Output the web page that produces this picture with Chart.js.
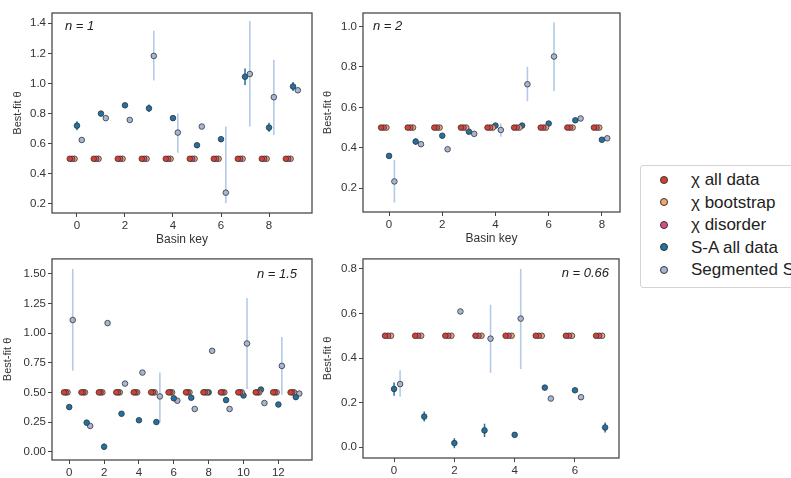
<!DOCTYPE html>
<html><head><meta charset="utf-8">
<script src="https://cdn.jsdelivr.net/npm/chart.js@4"></script>
<style>
body{margin:0;width:791px;height:478px;overflow:hidden;background:#fff;position:relative;font-family:"Liberation Sans",Arial,sans-serif}
canvas{position:absolute}
#legend{position:absolute;left:640px;top:165px;width:200px;height:123px;border:1px solid #d4d4d4;border-radius:3px;box-sizing:border-box;background:#fff}
.row{position:absolute;left:0;height:20px;width:200px}
.dot{position:absolute;left:19px;top:5.5px;width:8px;height:8px;border-radius:50%;border:0.8px solid #333;box-sizing:border-box}
.lab{position:absolute;left:50px;top:0;font-size:17px;line-height:20px;color:#222;white-space:nowrap}
</style>
</head><body>
<canvas id="c1" width="320" height="250" style="left:0;top:0"></canvas>
<canvas id="c2" width="310" height="250" style="left:320px;top:0"></canvas>
<canvas id="c3" width="320" height="240" style="left:0;top:250px"></canvas>
<canvas id="c4" width="310" height="240" style="left:320px;top:250px"></canvas>
<div id="legend"></div>
<script>
// ---------- data ----------
const seriesNames = ['χ all data', 'χ bootstrap', 'χ disorder', 'S-A all data', 'Segmented S-A'];

// n = 1
const keys1 = [0,1,2,3,4,5,6,7,8,9];
const chiAll1 = [0.5,0.5,0.5,0.5,0.5,0.5,0.5,0.5,0.5,0.5];
const chiBoot1 = [0.5,0.5,0.5,0.5,0.5,0.5,0.5,0.5,0.5,0.5];
const chiDis1 = [0.5,0.5,0.5,0.5,0.5,0.5,0.5,0.5,0.5,0.5];
const sa1 = [0.72,0.80,0.855,0.835,0.77,0.59,0.63,1.045,0.707,0.98];
const saErr1 = [[0.69,0.75],null,null,[0.81,0.86],null,null,null,[0.99,1.10],[0.68,0.74],[0.95,1.01]];
const seg1 = [0.625,0.77,0.758,1.183,0.674,0.714,0.275,1.063,0.909,0.955];
const segErr1 = [null,null,null,[1.02,1.35],[0.54,0.80],null,[0.205,0.714],[0.714,1.415],[0.658,1.157],null];
const xTicks1 = [0,2,4,6,8];
const yTicks1 = [0.2,0.4,0.6,0.8,1.0,1.2,1.4];

// n = 2
const keys2 = [0,1,2,3,4,5,6,7,8];
const chiAll2 = [0.5,0.5,0.5,0.5,0.5,0.5,0.5,0.5,0.5];
const chiBoot2 = [0.5,0.5,0.5,0.5,0.5,0.5,0.5,0.5,0.5];
const chiDis2 = [0.5,0.5,0.5,0.5,0.5,0.5,0.5,0.5,0.5];
const sa2 = [0.36,0.431,0.46,0.48,0.51,0.51,0.52,0.536,0.44];
const saErr2 = [null,[0.415,0.447],null,null,null,null,null,null,null];
const seg2 = [0.234,0.418,0.393,0.469,0.488,0.714,0.851,0.545,0.447];
const segErr2 = [[0.13,0.34],null,null,null,[0.455,0.52],[0.63,0.80],[0.68,1.02],null,null];
const xTicks2 = [0,2,4,6,8];
const yTicks2 = [0.2,0.4,0.6,0.8,1.0];

// n = 1.5
const keys3 = [0,1,2,3,4,5,6,7,8,9,10,11,12,13];
const chiAll3 = [0.5,0.5,0.5,0.5,0.5,0.5,0.5,0.5,0.5,0.5,0.5,0.5,0.5,0.5];
const chiBoot3 = [0.5,0.5,0.5,0.5,0.5,0.5,0.5,0.5,0.5,0.5,0.5,0.5,0.5,0.5];
const chiDis3 = [0.5,0.5,0.5,0.5,0.5,0.5,0.5,0.5,0.5,0.5,0.5,0.5,0.5,0.5];
const sa3 = [0.376,0.245,0.042,0.32,0.265,0.25,0.45,0.455,0.50,0.435,0.474,0.524,0.398,0.46];
const saErr3 = [null,null,[0.015,0.07],null,null,null,null,null,null,null,null,null,null,null];
const seg3 = [1.11,0.217,1.084,0.574,0.667,0.466,0.43,0.36,0.85,0.36,0.912,0.41,0.723,0.49];
const segErr3 = [[0.683,1.54],null,null,null,null,[0.245,0.667],null,null,null,null,[0.529,1.296],null,[0.48,0.966],null];
const xTicks3 = [0,2,4,6,8,10,12];
const yTicks3 = [0,0.25,0.5,0.75,1.0,1.25,1.5];

// n = 0.66
const keys4 = [0,1,2,3,4,5,6,7];
const chiAll4 = [0.5,0.5,0.5,0.5,0.5,0.5,0.5,0.5];
const chiBoot4 = [0.5,0.5,0.5,0.5,0.5,0.5,0.5,0.5];
const chiDis4 = [0.5,0.5,0.5,0.5,0.5,0.5,0.5,0.5];
const sa4 = [0.261,0.137,0.018,0.075,0.055,0.267,0.255,0.088];
const saErr4 = [[0.23,0.29],[0.115,0.16],[-0.005,0.04],[0.045,0.105],[0.045,0.065],null,null,[0.065,0.11]];
const seg4 = [0.283,null,0.609,0.487,0.577,0.218,0.224,null];
const segErr4 = [[0.226,0.345],null,null,[0.334,0.639],[0.35,0.8],null,null,null];
const xTicks4 = [0,2,4,6];
const yTicks4 = [0,0.2,0.4,0.6,0.8];

// ---------- styles ----------
const COL = {all:'#d63f2c', boot:'#f2a86d', dis:'#d64f88', sa:'#1f72a3', seg:'#a7b6d8'};
const FONT = '"Liberation Sans", Arial, sans-serif';

function pts(keys, vals, off, errs){
  const out = [];
  keys.forEach((k,i)=>{
    if (vals[i] == null) return;
    const p = {x:k+off, y:vals[i]};
    if (errs && errs[i]) { p.lo = errs[i][0]; p.hi = errs[i][1]; }
    out.push(p);
  });
  return out;
}

const errorBars = {
  id:'errorBars',
  beforeDatasetsDraw(chart){
    const {ctx, scales:{x,y}} = chart;
    chart.data.datasets.forEach(ds=>{
      if (!ds.errColor) return;
      ctx.save();
      ctx.strokeStyle = ds.errColor; ctx.lineWidth = ds.errWidth;
      ds.data.forEach(p=>{
        if (p.lo == null) return;
        const px = x.getPixelForValue(p.x);
        ctx.beginPath();
        ctx.moveTo(px, y.getPixelForValue(p.lo));
        ctx.lineTo(px, y.getPixelForValue(p.hi));
        ctx.stroke();
      });
      ctx.restore();
    });
  }
};

const frame = {
  id:'frame',
  afterDraw(chart, args, opts){
    const {ctx, chartArea:a} = chart;
    ctx.save();
    ctx.strokeStyle = '#4a4a4a'; ctx.lineWidth = 1.3;
    ctx.strokeRect(a.left, a.top, a.right-a.left, a.bottom-a.top);
    ctx.font = 'italic 13px ' + FONT; ctx.fillStyle = '#222';
    ctx.textBaseline = 'alphabetic';
    if (opts.align === 'left') { ctx.textAlign='left'; ctx.fillText(opts.text, a.left+opts.dx, a.top+opts.dy); }
    else { ctx.textAlign='right'; ctx.fillText(opts.text, a.right-opts.dx, a.top+opts.dy); }
    ctx.restore();
  }
};

function makeChart(id, d){
  const ds = (label, data, color, extra) => Object.assign({
    label, data, backgroundColor:color, borderColor:'#333', borderWidth:0.8,
    pointRadius:2.8, pointHoverRadius:2.8, showLine:false
  }, extra||{});
  new Chart(document.getElementById(id), {
    type:'scatter',
    data:{datasets:[
      ds(seriesNames[0], pts(d.keys, d.chiAll, -0.3), COL.all),
      ds(seriesNames[2], pts(d.keys, d.chiDis, -0.2), COL.dis),
      ds(seriesNames[1], pts(d.keys, d.chiBoot, -0.1), COL.boot),
      ds(seriesNames[3], pts(d.keys, d.sa, 0, d.saErr), COL.sa, {errColor:COL.sa, errWidth:1.5}),
      ds(seriesNames[4], pts(d.keys, d.seg, 0.2, d.segErr), COL.seg, {errColor:'#b3cbe5', errWidth:1.6})
    ]},
    options:{
      responsive:false, animation:false, events:[],
      layout:{padding:{top:d.padTop, right:d.padRight, left:0, bottom:0}},
      plugins:{legend:{display:false}, tooltip:{enabled:false},
        frame:{text:d.label, align:d.labelAlign, dx:d.labelDx, dy:d.labelDy}},
      scales:{
        x:{type:'linear', min:d.xr[0], max:d.xr[1],
          afterBuildTicks:s=>{ s.ticks = d.xTicks.map(v=>({value:v})); },
          afterFit:s=>{ s.height = d.xh; },
          ticks:{font:{family:FONT, size:11.5}, color:'#333', padding:2, autoSkip:false, maxRotation:0, callback:v=>v.toFixed(0)},
          grid:{display:true, drawOnChartArea:false, drawTicks:true, tickLength:4, color:'#444'},
          border:{display:false},
          title:{display:d.xTitle, text:'Basin key', font:{family:FONT, size:12}, color:'#333', padding:{top:0, bottom:d.xTitlePad}}
        },
        y:{type:'linear', min:d.yr[0], max:d.yr[1],
          afterBuildTicks:s=>{ s.ticks = d.yTicks.map(v=>({value:v})); },
          afterFit:s=>{ s.width = d.yw; },
          ticks:{font:{family:FONT, size:11.5}, color:'#333', padding:2, autoSkip:false, callback:v=>v.toFixed(d.dec)},
          grid:{display:true, drawOnChartArea:false, drawTicks:true, tickLength:4, color:'#444'},
          border:{display:false},
          title:{display:true, text:'Best-fit θ', font:{family:FONT, size:11}, color:'#333', padding:{top:d.yTitlePad, bottom:0}}
        }
      }
    },
    plugins:[errorBars, frame]
  });
}

makeChart('c1', {keys:keys1, chiAll:chiAll1, chiBoot:chiBoot1, chiDis:chiDis1, sa:sa1, saErr:saErr1, seg:seg1, segErr:segErr1,
  xTicks:xTicks1, yTicks:yTicks1, xr:[-1.04,9.79], yr:[0.14,1.468], dec:1,
  padTop:13, padRight:8, yw:52, xh:37, xTitle:true, xTitlePad:3, yTitlePad:11,
  label:'n = 1', labelAlign:'left', labelDx:13, labelDy:17});
makeChart('c2', {keys:keys2, chiAll:chiAll2, chiBoot:chiBoot2, chiDis:chiDis2, sa:sa2, saErr:saErr2, seg:seg2, segErr:segErr2,
  xTicks:xTicks2, yTicks:yTicks2, xr:[-0.98,8.68], yr:[0.083,1.066], dec:1,
  padTop:13, padRight:10, yw:43, xh:38, xTitle:true, xTitlePad:4, yTitlePad:1.5,
  label:'n = 2', labelAlign:'left', labelDx:10, labelDy:17});
makeChart('c3', {keys:keys3, chiAll:chiAll3, chiBoot:chiBoot3, chiDis:chiDis3, sa:sa3, saErr:saErr3, seg:seg3, segErr:segErr3,
  xTicks:xTicks3, yTicks:yTicks3, xr:[-0.99,13.93], yr:[-0.07,1.625], dec:2,
  padTop:7, padRight:8, yw:52, xh:30, xTitle:false, xTitlePad:0, yTitlePad:1.5,
  label:'n = 1.5', labelAlign:'right', labelDx:15, labelDy:19});
makeChart('c4', {keys:keys4, chiAll:chiAll4, chiBoot:chiBoot4, chiDis:chiDis4, sa:sa4, saErr:saErr4, seg:seg4, segErr:segErr4,
  xTicks:xTicks4, yTicks:yTicks4, xr:[-1.03,7.46], yr:[-0.049,0.845], dec:1,
  padTop:8, padRight:11, yw:43, xh:32, xTitle:false, xTitlePad:0, yTitlePad:1.5,
  label:'n = 0.66', labelAlign:'right', labelDx:10, labelDy:18});

// legend
const legendColors = [COL.all, COL.boot, COL.dis, COL.sa, COL.seg];
const legendRows = [14, 36.5, 59, 81.5, 104];
const lg = document.getElementById('legend');
seriesNames.forEach((name,i)=>{
  const r = document.createElement('div'); r.className='row'; r.style.top=(legendRows[i]-10)+'px';
  const dot = document.createElement('div'); dot.className='dot'; dot.style.background=legendColors[i];
  const t = document.createElement('div'); t.className='lab'; t.textContent=name;
  r.appendChild(dot); r.appendChild(t); lg.appendChild(r);
});
</script>
</body></html>
